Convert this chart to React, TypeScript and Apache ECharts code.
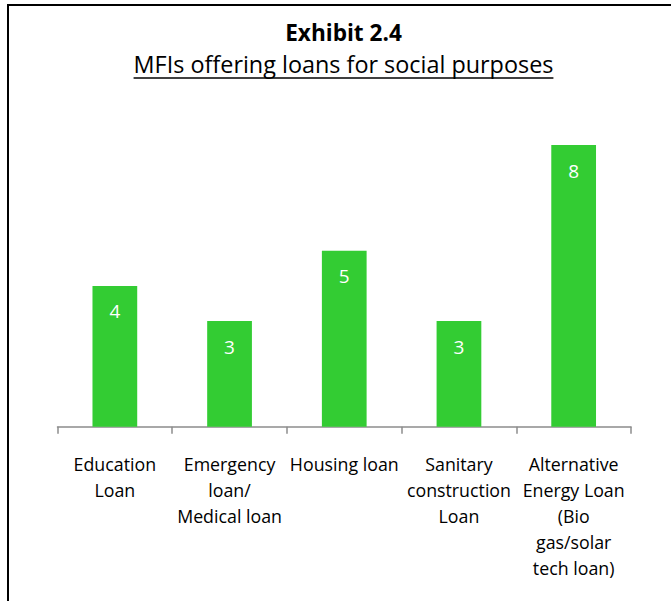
import React, { useEffect, useRef } from "react";
import * as echarts from "echarts";

const categories = [
  "Education\nLoan",
  "Emergency\nloan/\nMedical loan",
  "Housing loan",
  "Sanitary\nconstruction\nLoan",
  "Alternative\nEnergy Loan\n(Bio\ngas/solar\ntech loan)",
];
const values = [4, 3, 5, 3, 8];
const titleText = "Exhibit 2.4";
const subtitleText = "MFIs offering loans for social purposes";

const FONT = "'Open Sans', sans-serif";

export default function App() {
  const ref = useRef<HTMLDivElement>(null);
  useEffect(() => {
    document.body.style.margin = "0";
    if (!ref.current) return;
    const chart = echarts.init(ref.current, null, { renderer: "svg" });
    const subSize = 23.4;
    let subW = 419;
    try {
      const c = document.createElement("canvas").getContext("2d");
      if (c) {
        c.font = `${subSize}px 'Open Sans'`;
        subW = c.measureText(subtitleText).width;
      }
    } catch (e) {}
    const cx = 343.5;
    chart.setOption({
      animation: false,
      grid: { left: 57.5, right: 40, top: 109.9, bottom: 174.3 },
      xAxis: {
        type: "category",
        data: categories,
        axisLine: { lineStyle: { color: "#8c8c8c", width: 1.5 } },
        axisTick: { show: true, length: 7, lineStyle: { color: "#8c8c8c", width: 1.5 } },
        axisLabel: {
          interval: 0,
          color: "#000",
          fontSize: 17.8,
          lineHeight: 26,
          fontFamily: FONT,
          margin: 24,
          align: "center",
        },
      },
      yAxis: { type: "value", min: 0, max: 9, show: false, splitLine: { show: false } },
      series: [
        {
          type: "bar",
          data: values,
          barWidth: "39%",
          itemStyle: { color: "#33CC33" },
          label: {
            show: true,
            position: "insideTop",
            distance: 16,
            color: "#fff",
            fontSize: 19,
            fontFamily: FONT,
          },
        },
      ],
      graphic: [
        {
          type: "rect",
          shape: { x: 8, y: 5, width: 800, height: 800 },
          style: { fill: "none", stroke: "#000", lineWidth: 2 },
          silent: true,
        },
        {
          type: "text",
          x: cx,
          y: 32,
          style: {
            text: titleText,
            font: `bold 22.6px ${FONT}`,
            fill: "#000",
            align: "center",
            verticalAlign: "middle",
          },
        },
        {
          type: "text",
          x: cx,
          y: 64,
          style: {
            text: subtitleText,
            font: `${subSize}px ${FONT}`,
            fill: "#000",
            align: "center",
            verticalAlign: "middle",
          },
        },
        {
          type: "line",
          shape: { x1: cx - subW / 2, y1: 78, x2: cx + subW / 2, y2: 78 },
          style: { stroke: "#000", lineWidth: 1.5 },
        },
      ],
    });
    return () => chart.dispose();
  }, []);
  return <div ref={ref} style={{ width: 671, height: 601 }} />;
}
